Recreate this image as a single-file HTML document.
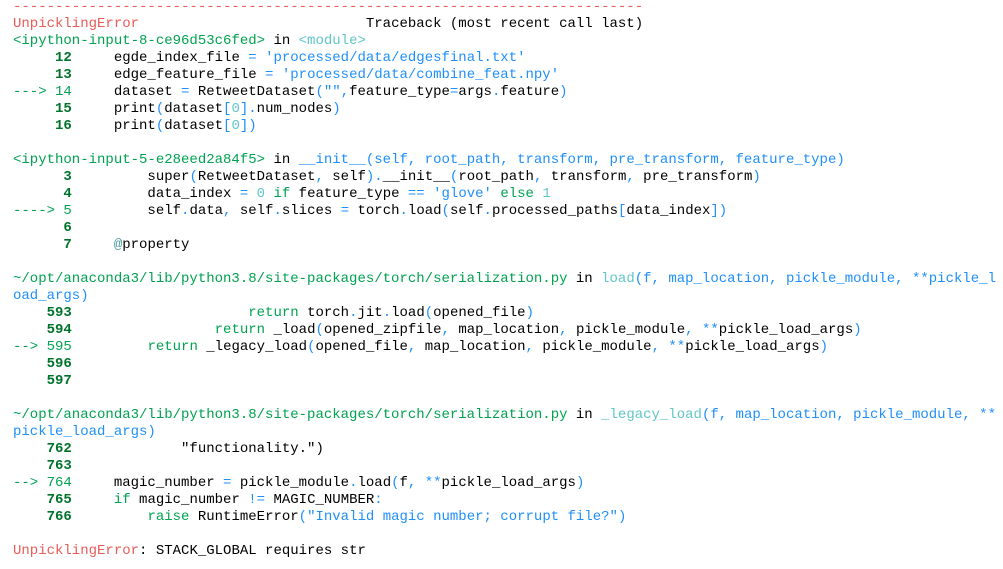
<!DOCTYPE html>
<html><head><meta charset="utf-8"><style>
html,body{margin:0;padding:0;background:#fff;width:1003px;height:569px;overflow:hidden}
pre{margin:0;position:absolute;left:13px;top:-1.5px;font-family:"Liberation Mono",monospace;font-size:14px;line-height:17px;color:#000;white-space:pre}
.r{color:#e75c58}.g{color:#00a250}.c{color:#60c6c8}.b{color:#1f8ffb}
.n{color:#00732b;font-weight:bold}.k{color:#00a250}.d{color:#4b9ea0}
</style></head><body><pre><span class="r">---------------------------------------------------------------------------</span>
<span class="r">UnpicklingError</span>                           Traceback (most recent call last)
<span class="g">&lt;ipython-input-8-ce96d53c6fed&gt;</span> in <span class="c">&lt;module&gt;</span>
<span class="n">     12</span>     egde_index_file <span class="b">=</span> <span class="b">'processed/data/edgesfinal.txt'</span>
<span class="n">     13</span>     edge_feature_file <span class="b">=</span> <span class="b">'processed/data/combine_feat.npy'</span>
<span class="g">---&gt; 14</span>     dataset <span class="b">=</span> RetweetDataset<span class="b">(""</span><span class="b">,</span>feature_type<span class="b">=</span>args<span class="b">.</span>feature<span class="b">)</span>
<span class="n">     15</span>     print<span class="b">(</span>dataset<span class="b">[</span><span class="c">0</span><span class="b">].</span>num_nodes<span class="b">)</span>
<span class="n">     16</span>     print<span class="b">(</span>dataset<span class="b">[</span><span class="c">0</span><span class="b">])</span>

<span class="g">&lt;ipython-input-5-e28eed2a84f5&gt;</span> in <span class="b">__init__</span><span class="b">(self, root_path, transform, pre_transform, feature_type)</span>
<span class="n">      3</span>         super<span class="b">(</span>RetweetDataset<span class="b">,</span> self<span class="b">).</span>__init__<span class="b">(</span>root_path<span class="b">,</span> transform<span class="b">,</span> pre_transform<span class="b">)</span>
<span class="n">      4</span>         data_index <span class="b">=</span> <span class="c">0</span> <span class="k">if</span> feature_type <span class="b">==</span> <span class="b">'glove'</span> <span class="k">else</span> <span class="c">1</span>
<span class="g">----&gt; 5</span>         self<span class="b">.</span>data<span class="b">,</span> self<span class="b">.</span>slices <span class="b">=</span> torch<span class="b">.</span>load<span class="b">(</span>self<span class="b">.</span>processed_paths<span class="b">[</span>data_index<span class="b">])</span>
<span class="n">      6</span>
<span class="n">      7</span>     <span class="d">@</span>property

<span class="g">~/opt/anaconda3/lib/python3.8/site-packages/torch/serialization.py</span> in <span class="c">load</span><span class="b">(f, map_location, pickle_module, **pickle_l</span>
<span class="b">oad_args)</span>
<span class="n">    593</span>                     <span class="k">return</span> torch<span class="b">.</span>jit<span class="b">.</span>load<span class="b">(</span>opened_file<span class="b">)</span>
<span class="n">    594</span>                 <span class="k">return</span> _load<span class="b">(</span>opened_zipfile<span class="b">,</span> map_location<span class="b">,</span> pickle_module<span class="b">,</span> <span class="b">**</span>pickle_load_args<span class="b">)</span>
<span class="g">--&gt; 595</span>         <span class="k">return</span> _legacy_load<span class="b">(</span>opened_file<span class="b">,</span> map_location<span class="b">,</span> pickle_module<span class="b">,</span> <span class="b">**</span>pickle_load_args<span class="b">)</span>
<span class="n">    596</span>
<span class="n">    597</span>

<span class="g">~/opt/anaconda3/lib/python3.8/site-packages/torch/serialization.py</span> in <span class="c">_legacy_load</span><span class="b">(f, map_location, pickle_module, **</span>
<span class="b">pickle_load_args)</span>
<span class="n">    762</span>             "functionality.")
<span class="n">    763</span>
<span class="g">--&gt; 764</span>     magic_number <span class="b">=</span> pickle_module<span class="b">.</span>load<span class="b">(</span>f<span class="b">,</span> <span class="b">**</span>pickle_load_args<span class="b">)</span>
<span class="n">    765</span>     <span class="k">if</span> magic_number <span class="b">!=</span> MAGIC_NUMBER<span class="b">:</span>
<span class="n">    766</span>         <span class="k">raise</span> RuntimeError<span class="b">(</span><span class="b">"Invalid magic number; corrupt file?"</span><span class="b">)</span>

<span class="r">UnpicklingError</span>: STACK_GLOBAL requires str</pre></body></html>
